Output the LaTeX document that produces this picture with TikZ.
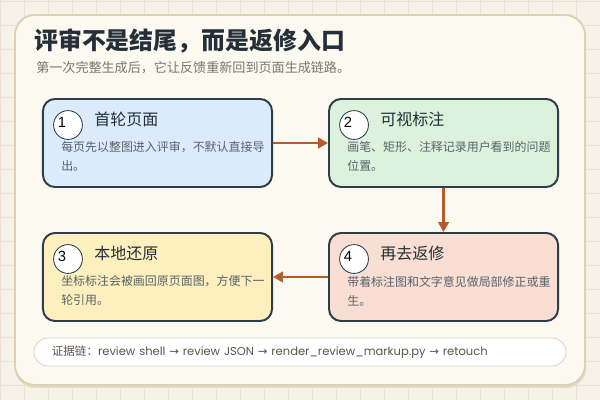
\documentclass[tikz,border=0pt]{standalone}
\usepackage{fontspec}
\setmainfont{Poppins}
\newfontfamily\cjk{Noto Sans CJK SC}
\newfontfamily\numfont{Liberation Sans}
\newfontfamily\symfont{DejaVu Sans}
\usetikzlibrary{arrows.meta, positioning}

\definecolor{pagebg}{HTML}{F6F2E7}
\definecolor{gridc}{HTML}{E9E2D1}
\definecolor{panelfill}{HTML}{FCF9F0}
\definecolor{panelline}{HTML}{DDD0B4}
\definecolor{panelshade}{HTML}{E4D9C3}
\definecolor{ink}{HTML}{252F38}
\definecolor{subink}{HTML}{7D766A}
\definecolor{boxline}{HTML}{2F3D4A}
\definecolor{descink}{HTML}{59626B}
\definecolor{flowc}{HTML}{B85A2B}
\definecolor{pillline}{HTML}{DCD5C6}
\definecolor{pillink}{HTML}{5B554C}
\definecolor{fillblue}{HTML}{DCEBFC}
\definecolor{fillgreen}{HTML}{DDF2DD}
\definecolor{fillyellow}{HTML}{FDF0BE}
\definecolor{fillpink}{HTML}{F8DED3}

\begin{document}
\begin{tikzpicture}[
    x=0.025cm, y=-0.025cm,
    node distance=1.1cm and 1.375cm,
    gridline/.style={draw=gridc, line width=0.6pt},
    stagebox/.style={rectangle, draw=boxline, line width=1.4pt, rounded corners=0.3cm, minimum width=5.725cm, minimum height=2.2cm, inner sep=0pt},
    numdot/.style={circle, draw=boxline, line width=0.6pt, fill=white, minimum size=0.72cm, inner sep=0pt},
    numtext/.style={font=\numfont\fontsize{10.5}{12}\selectfont, text=black, inner sep=0pt},
    boxhead/.style={font=\cjk\fontsize{11.4}{13}\selectfont, text=ink, inner sep=0pt, anchor=west},
    boxdesc/.style={font=\cjk\fontsize{8.5}{13.5}\selectfont, text=descink, inner sep=0pt, align=left, anchor=west},
    flow/.style={draw=flowc, line width=1.5pt, -{Triangle[length=7pt,width=7.5pt]}},
    pill/.style={rectangle, draw=pillline, line width=0.6pt, fill=white, rounded corners=0.35cm, minimum width=13.3cm, minimum height=0.7cm, inner xsep=0.45cm, text width=12.4cm, align=left}
]

% page and grid
\fill[pagebg] (0,0) rectangle (600,400);
\useasboundingbox (0,0) rectangle (600,400);
\foreach \gx in {0,24,...,600} \draw[gridline] (\gx,0) -- (\gx,400);
\foreach \gy in {1,25,...,400} \draw[gridline] (0,\gy) -- (600,\gy);

% panel
\fill[panelshade, rounded corners=0.5cm] (15,18) rectangle (586,388);
\draw[fill=panelfill, draw=panelline, line width=1.3pt, rounded corners=0.5cm] (15,15) rectangle (585,385);

% heading
\node[font=\cjk\bfseries\fontsize{17}{20}\selectfont, text=ink, anchor=west, inner sep=0pt] (title) at (34,41) {评审不是结尾，而是返修入口};
\node[font=\cjk\fontsize{9.3}{11}\selectfont, text=subink, anchor=west, inner sep=0pt] (subtitle) at (36,68) {第一次完整生成后，它让反馈重新回到页面生成链路。};

% stages
\node[stagebox, fill=fillblue] (first) at (157.5,143) {};
\node[stagebox, fill=fillgreen, right=of first] (mark) {};
\node[stagebox, fill=fillpink, below=of mark] (redo) {};
\node[stagebox, fill=fillyellow, left=of redo] (local) {};

\node[numdot] (dot1) at ([xshift=0.65cm, yshift=-0.675cm]first.north west) {};
\node[numtext] (num1) at ([xshift=-0.15cm, yshift=0.07cm]dot1.center) {1};
\node[boxhead] (head1) at ([xshift=1.3cm, yshift=-0.53cm]first.north west) {首轮页面};
\node[boxdesc] (desc1) at ([xshift=0.475cm, yshift=-1.47cm]first.north west) {每页先以整图进入评审，不默认直接导\\出。};

\node[numdot] (dot2) at ([xshift=0.65cm, yshift=-0.675cm]mark.north west) {};
\node[numtext] (num2) at ([xshift=-0.15cm, yshift=0.07cm]dot2.center) {2};
\node[boxhead] (head2) at ([xshift=1.3cm, yshift=-0.53cm]mark.north west) {可视标注};
\node[boxdesc] (desc2) at ([xshift=0.475cm, yshift=-1.47cm]mark.north west) {画笔、矩形、注释记录用户看到的问题\\位置。};

\node[numdot] (dot3) at ([xshift=0.65cm, yshift=-0.675cm]local.north west) {};
\node[numtext] (num3) at ([xshift=-0.15cm, yshift=0.07cm]dot3.center) {3};
\node[boxhead] (head3) at ([xshift=1.3cm, yshift=-0.53cm]local.north west) {本地还原};
\node[boxdesc] (desc3) at ([xshift=0.475cm, yshift=-1.47cm]local.north west) {坐标标注会被画回原页面图，方便下一\\轮引用。};

\node[numdot] (dot4) at ([xshift=0.65cm, yshift=-0.675cm]redo.north west) {};
\node[numtext] (num4) at ([xshift=-0.15cm, yshift=0.07cm]dot4.center) {4};
\node[boxhead] (head4) at ([xshift=1.3cm, yshift=-0.53cm]redo.north west) {再去返修};
\node[boxdesc] (desc4) at ([xshift=0.475cm, yshift=-1.47cm]redo.north west) {带着标注图和文字意见做局部修正或重\\生。};

\draw[flow] (first) -- (mark);
\draw[flow] (mark) -- (redo);
\draw[flow] (redo) -- (local);

% evidence chain
\node[pill, font=\fontsize{8.2}{9}\selectfont, text=pillink] (chain) at (300,352) {{\cjk 证据链：}review shell {\symfont→} review JSON {\symfont→} render\_review\_markup.py {\symfont→} retouch};

\end{tikzpicture}
\end{document}
